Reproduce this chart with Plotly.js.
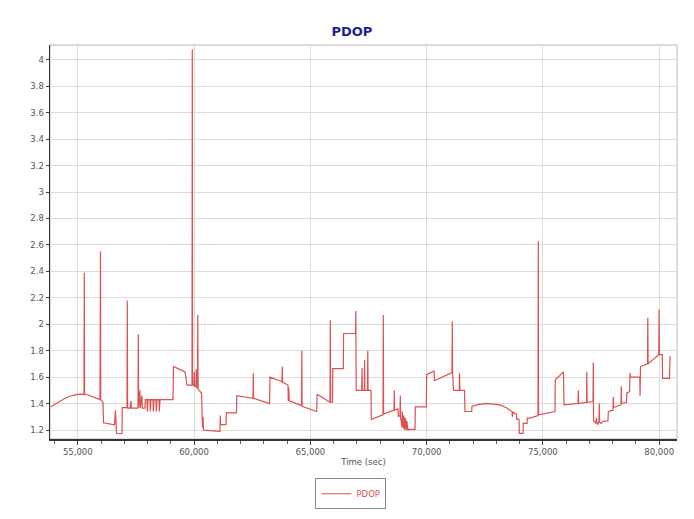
<!DOCTYPE html>
<html>
<head>
<meta charset="utf-8">
<script src="https://cdn.plot.ly/plotly-3.0.1.min.js"></script>
<style>html,body{margin:0;padding:0;background:#fff;}#chart{width:694px;height:519px;}</style>
</head>
<body>
<div id="chart"></div>
<script>
// Time (sec) and PDOP values
const timeSec = [
  53848,54063,54235,54450,54665,54923,55168,
  55267,55280,55292,55439,55611,55783,55955,55976,55989,56084,
  56105,56578,56621,56664,56901,
  56914,57116,57129,57141,57245,57288,57301,57589,57602,57614,57675,57688,57761,57774,57890,
  57903,57976,57989,58019,58105,58118,58148,58234,58247,58277,58363,58376,58406,58492,58505,58535,59094,
  59115,59610,59696,59911,59924,59936,59997,60010,60022,60083,60096,60108,60147,60160,60173,60319,
  60332,60362,60384,60405,60685,60986,61115,61128,61140,61373,61386,61824,
  61837,62534,62547,62559,63243,
  63265,63781,63794,63806,64039,64052,64073,64090,64103,64619,64632,64645,65273,
  65294,65845,65858,65870,65952,65965,66417,66429,66941,66954,
  66971,67208,67221,67234,67320,67333,67345,67457,67470,67483,67608,
  67621,68124,68137,68149,68597,68610,68622,68769,
  68782,68855,68868,68880,68941,68954,69005,69018,69070,69083,69134,69147,69199,69285,69500,
  69513,69986,70003,70317,70338,70424,71091,71104,71116,71155,71405,71417,71430,71628,
  71650,71938,71951,72209,72510,72811,73155,73413,73585,73671,73684,73714,73864,73877,73972,
  73985,74144,74157,74316,74329,74445,74789,74802,74814,75520,
  75533,75885,75907,76509,76522,76534,76874,76887,76900,77154,77167,
  77179,77283,77296,77347,77412,77425,77437,77498,77584,77799,
  77812,78014,78027,78039,78358,78371,78383,78594,78607,78723,78736,78749,78762,79166,
  79179,79196,79497,79510,79523,79983,79996,80009,80134,80146,80443,80465
];
const pdop = [
  1.376,1.40,1.42,1.44,1.455,1.467,1.472,
  1.47,2.39,1.47,1.465,1.455,1.44,1.43,2.55,1.428,1.41,
  1.255,1.24,1.35,1.175,1.172,
  1.37,1.37,2.18,1.366,1.366,1.42,1.366,1.366,1.925,1.366,1.50,1.366,1.46,1.366,1.366,
  1.43,1.43,1.34,1.43,1.43,1.34,1.43,1.43,1.34,1.43,1.43,1.34,1.43,1.43,1.34,1.43,1.43,
  1.68,1.64,1.54,1.54,4.08,1.54,1.535,1.64,1.53,1.53,1.66,1.52,1.52,2.07,1.51,1.48,
  1.30,1.22,1.30,1.20,1.195,1.19,1.19,1.31,1.24,1.24,1.33,1.33,
  1.46,1.44,1.63,1.44,1.40,
  1.60,1.565,1.68,1.56,1.54,1.42,1.52,1.43,1.42,1.385,1.80,1.38,1.34,
  1.47,1.41,2.03,1.41,1.41,1.665,1.665,1.93,1.93,2.10,
  1.50,1.50,1.67,1.50,1.50,1.73,1.50,1.50,1.80,1.50,1.50,
  1.28,1.315,2.07,1.32,1.35,1.50,1.35,1.36,
  1.30,1.31,1.46,1.30,1.22,1.34,1.21,1.31,1.20,1.29,1.20,1.27,1.20,1.205,1.205,
  1.375,1.375,1.62,1.645,1.575,1.58,1.635,2.02,1.635,1.50,1.50,1.63,1.50,1.50,
  1.34,1.34,1.38,1.392,1.40,1.398,1.39,1.37,1.35,1.34,1.30,1.335,1.32,1.28,1.28,
  1.175,1.175,1.25,1.25,1.29,1.29,1.31,2.63,1.315,1.34,
  1.58,1.64,1.39,1.40,1.50,1.40,1.41,1.64,1.41,1.415,1.71,
  1.27,1.25,1.29,1.24,1.26,1.40,1.26,1.25,1.265,1.27,
  1.34,1.35,1.45,1.37,1.39,1.53,1.40,1.41,1.48,1.49,1.60,1.63,1.60,1.60,
  1.46,1.68,1.70,2.05,1.70,1.77,2.11,1.77,1.77,1.59,1.59,1.76
];
const seriesName = 'PDOP';
const chartTitle = 'PDOP';
const xTitle = 'Time (sec)';

const fontFam = 'DejaVu Sans, Verdana, sans-serif';
const trace = {
  x: timeSec, y: pdop, type: 'scatter', mode: 'lines', name: seriesName,
  line: {color: '#dc5050', width: 1.2},
  showlegend: true
};
const layout = {
  width: 694, height: 519,
  margin: {l: 50, r: 17, t: 44.5, b: 80, autoexpand: false},
  paper_bgcolor: '#ffffff', plot_bgcolor: '#ffffff',
  font: {family: fontFam, size: 9, color: '#555'},
  title: {text: chartTitle, font: {family: fontFam, size: 13, color: '#1f1f8f', weight: 'bold'},
          xref: 'container', x: 0.507, xanchor: 'center', yref: 'container', y: 1 - 31/519, yanchor: 'middle'},
  xaxis: {
    range: [53805, 80766], tick0: 0, dtick: 5000, tickformat: ',d',
    showgrid: true, gridcolor: '#dcdcdc', gridwidth: 1, zeroline: false,
    showline: true, linecolor: '#333', linewidth: 1.5,
    ticks: 'outside', ticklen: 4, tickcolor: '#444',
    minor: {dtick: 1000, ticks: 'outside', ticklen: 3, tickcolor: '#666', showgrid: false},
    tickfont: {family: fontFam, size: 8.5, color: '#555'},
    title: {text: xTitle, font: {family: fontFam, size: 8.5, color: '#555'}, standoff: 3}
  },
  yaxis: {
    range: [1.132, 4.112], tick0: 0, dtick: 0.2,
    showgrid: true, gridcolor: '#dcdcdc', gridwidth: 1, zeroline: false,
    showline: true, linecolor: '#333', linewidth: 1.5,
    ticks: 'outside', ticklen: 3, tickcolor: '#444',
    tickfont: {family: fontFam, size: 8.5, color: '#555'}
  },
  shapes: [{type: 'rect', xref: 'paper', yref: 'paper', x0: 0, x1: 1, y0: 0, y1: 1,
            line: {color: '#b8b8b8', width: 1}, layer: 'below'}],
  showlegend: true,
  legend: {x: 0.48, xanchor: 'center', y: -0.139, yanchor: 'middle', orientation: 'h',
           bgcolor: '#ffffff', bordercolor: '#888', borderwidth: 1,
           font: {family: fontFam, size: 8.5, color: '#e05050'}, itemwidth: 30}
};
Plotly.newPlot('chart', [trace], layout, {staticPlot: true, displayModeBar: false});
</script>
</body>
</html>
